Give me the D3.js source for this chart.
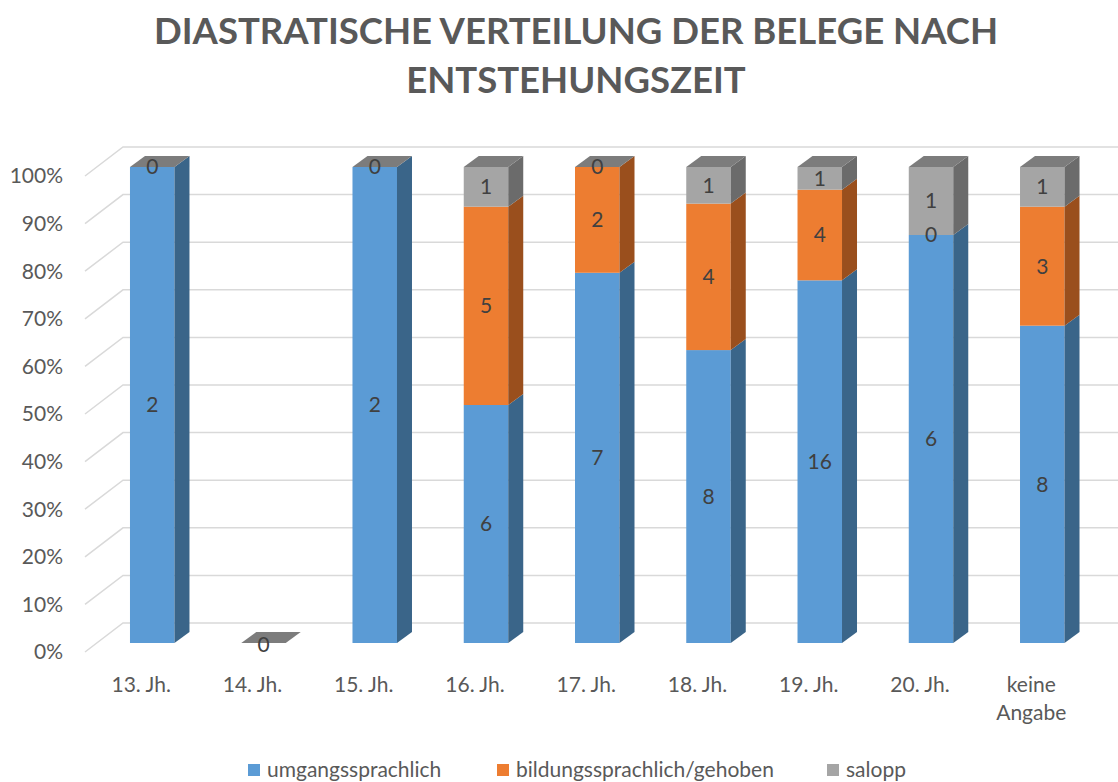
<!DOCTYPE html>
<html>
<head>
<meta charset="utf-8">
<script src="https://cdn.jsdelivr.net/npm/d3@7"></script>
<style>
  body { margin: 0; background: #fff; }
  text { font-family: Lato, "Open Sans", sans-serif; }
</style>
</head>
<body>
<div id="chart"></div>
<script>
// data (counts per period)
var categories = ["13. Jh.", "14. Jh.", "15. Jh.", "16. Jh.", "17. Jh.", "18. Jh.", "19. Jh.", "20. Jh.", "keine Angabe"];
var umgangssprachlich = [2, 0, 2, 6, 7, 8, 16, 6, 8];
var bildungssprachlich = [0, 0, 0, 5, 2, 4, 4, 0, 3];
var salopp = [0, 0, 0, 1, 0, 1, 1, 1, 1];
var seriesNames = ["umgangssprachlich", "bildungssprachlich/gehoben", "salopp"];
var yTicks = [0, 0.1, 0.2, 0.3, 0.4, 0.5, 0.6, 0.7, 0.8, 0.9, 1];

var W = 1118, H = 782;
var front = ["#5B9BD5", "#ED7D31", "#A5A5A5"];
var side = ["#3A6589", "#9A4F1D", "#6B6B6B"];
var topCol = "#7C7C7C";

// depth offsets
var bdx = 15, bdy = -11;      // bar depth
var wallDx = 38, wallDy = -29; // gridline slant
var wallShift = -20;           // back wall vs bar front

var svg = d3.select("#chart").append("svg")
    .attr("width", W).attr("height", H);

// Title
var title = svg.append("text")
    .attr("text-anchor", "middle")
    .style("font-weight", "bold")
    .style("font-size", "36.5px")
    .style("fill", "#595959");
title.append("tspan").attr("x", 576).attr("y", 44).text("DIASTRATISCHE VERTEILUNG DER BELEGE NACH");
title.append("tspan").attr("x", 576).attr("y", 93).text("ENTSTEHUNGSZEIT");

// Scales
var y = d3.scaleLinear().domain([0, 1]).range([643, 167]);
var x = d3.scaleBand().domain(categories).range([96.6, 1097.9])
    .paddingInner(0.6).paddingOuter(0.3);

// Gridlines (side wall slant + back wall)
var grid = svg.append("g");
yTicks.forEach(function(t) {
  var yb = y(t) + wallShift;
  grid.append("path")
    .attr("d", "M85," + (yb - wallDy) + "L" + (85 + wallDx) + "," + yb + "L" + W + "," + yb)
    .attr("fill", "none")
    .attr("stroke", "#D9D9D9")
    .attr("stroke-width", 1.5);
});

// Y axis labels
svg.append("g").selectAll("text")
  .data(yTicks).enter()
  .append("text")
    .attr("x", 63)
    .attr("y", function(d) { return y(d) + wallShift - wallDy; })
    .attr("dy", "0.35em")
    .attr("text-anchor", "end")
    .style("font-size", "21px")
    .style("fill", "#595959")
    .text(function(d) { return Math.round(d * 100) + "%"; });

// Stack
var rows = categories.map(function(c, i) {
  return { cat: c, vals: [umgangssprachlich[i], bildungssprachlich[i], salopp[i]] };
});

var bars = svg.append("g");
var labels = svg.append("g");
rows.forEach(function(r) {
  var total = d3.sum(r.vals);
  var x0 = x(r.cat), bw = x.bandwidth();
  var acc = 0;
  r.vals.forEach(function(v, k) {
    var f0 = total ? acc / total : 0;
    var f1 = total ? (acc + v) / total : 0;
    acc += v;
    var yTop = y(f1), yBot = y(f0);
    if (yBot - yTop > 0) {
      bars.append("rect")
        .attr("x", x0).attr("y", yTop)
        .attr("width", bw).attr("height", yBot - yTop)
        .attr("fill", front[k]);
      bars.append("path")
        .attr("d", "M" + (x0 + bw) + "," + yTop + "l" + bdx + "," + bdy + "L" + (x0 + bw + bdx) + "," + (yBot + bdy) + "L" + (x0 + bw) + "," + yBot + "Z")
        .attr("fill", side[k]);
    }
  });
  // top face
  var yt = y(total ? 1 : 0);
  bars.append("path")
    .attr("d", "M" + x0 + "," + yt + "l" + bdx + "," + bdy + "l" + bw + ",0l" + (-bdx) + "," + (-bdy) + "Z")
    .attr("fill", topCol);

  // data labels
  acc = 0;
  var shown = {};
  r.vals.forEach(function(v, k) {
    var f0 = total ? acc / total : 0;
    var f1 = total ? (acc + v) / total : 0;
    acc += v;
    var ym = (y(f0) + y(f1)) / 2;
    var key = Math.round(ym);
    if (shown[key]) return;
    shown[key] = true;
    labels.append("text")
      .attr("x", x0 + bw / 2)
      .attr("y", total ? ym : ym + 2)
      .attr("dy", "0.35em")
      .attr("text-anchor", "middle")
      .style("font-size", "21px")
      .style("fill", "#404040")
      .text(v);
  });
});

// X labels
var xl = svg.append("g").selectAll("text")
  .data(categories).enter()
  .append("text")
    .attr("text-anchor", "middle")
    .style("font-size", "21px")
    .style("fill", "#595959");
xl.each(function(d) {
  var t = d3.select(this);
  var cx = x(d) + x.bandwidth() / 2 - 11;
  var parts = d === "keine Angabe" ? ["keine", "Angabe"] : [d];
  parts.forEach(function(p, i) {
    t.append("tspan").attr("x", cx).attr("y", 692 + i * 28).text(p);
  });
});

// Legend
var legendX = [248, 497, 827];
var lg = svg.append("g").selectAll("g")
  .data(seriesNames).enter()
  .append("g")
    .attr("transform", function(d, i) { return "translate(" + legendX[i] + ",770)"; });
lg.append("rect")
  .attr("x", 0).attr("y", -6).attr("width", 12).attr("height", 12)
  .attr("fill", function(d, i) { return front[i]; });
lg.append("text")
  .attr("x", 19).attr("dy", "0.35em")
  .style("font-size", "21px")
  .style("fill", "#595959")
  .text(function(d) { return d; });
</script>
</body>
</html>
